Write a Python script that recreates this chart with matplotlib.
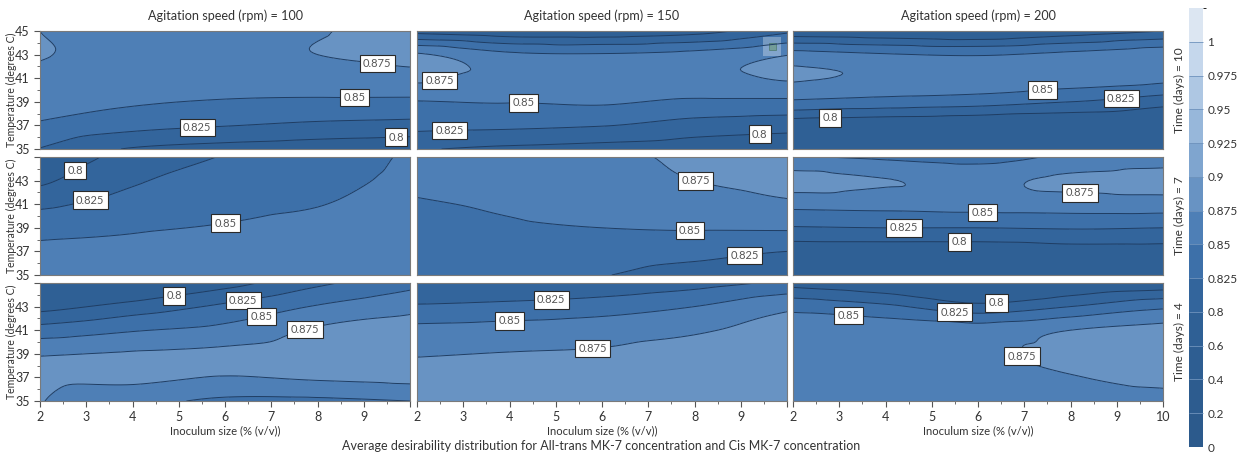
import matplotlib
matplotlib.use('Agg')
import matplotlib.pyplot as plt
import matplotlib.tri as mtri
from matplotlib.colors import ListedColormap, BoundaryNorm
from matplotlib.cm import ScalarMappable
from matplotlib.patches import Rectangle
from matplotlib.ticker import MultipleLocator, FormatStrFormatter
import numpy as np

plt.rcParams['font.family'] = ['Lato', 'DejaVu Sans']

# grid the desirability was evaluated on
inoculum = [2, 4, 6, 8, 10]
temperature = [35, 37, 39, 41, 43, 45]
speeds = [100, 150, 200]
times = [10, 7, 4]

# desirability, one row per inoculum size (2..10), values along temperature (35..45)
d_t10_a100 = [[0.824, 0.846, 0.862, 0.870, 0.876, 0.875],
              [0.798, 0.833, 0.853, 0.864, 0.869, 0.868],
              [0.790, 0.826, 0.848, 0.862, 0.869, 0.867],
              [0.785, 0.820, 0.846, 0.864, 0.875, 0.874],
              [0.780, 0.817, 0.845, 0.868, 0.880, 0.880]]
d_t10_a150 = [[0.802, 0.832, 0.849, 0.879, 0.878, 0.790],
              [0.795, 0.830, 0.851, 0.866, 0.855, 0.780],
              [0.790, 0.826, 0.853, 0.866, 0.852, 0.780],
              [0.785, 0.815, 0.846, 0.868, 0.858, 0.790],
              [0.780, 0.810, 0.845, 0.877, 0.874, 0.820]]
d_t10_a200 = [[0.720, 0.780, 0.846, 0.877, 0.860, 0.780],
              [0.710, 0.775, 0.840, 0.872, 0.852, 0.775],
              [0.700, 0.770, 0.835, 0.868, 0.848, 0.770],
              [0.690, 0.765, 0.825, 0.862, 0.856, 0.785],
              [0.680, 0.760, 0.810, 0.857, 0.866, 0.800]]
d_t7_a100 = [[0.862, 0.855, 0.842, 0.820, 0.795, 0.770],
             [0.865, 0.858, 0.847, 0.835, 0.822, 0.812],
             [0.867, 0.862, 0.852, 0.842, 0.834, 0.826],
             [0.868, 0.865, 0.858, 0.849, 0.842, 0.837],
             [0.868, 0.866, 0.863, 0.860, 0.856, 0.853]]
d_t7_a150 = [[0.835, 0.838, 0.842, 0.848, 0.855, 0.860],
             [0.832, 0.838, 0.847, 0.853, 0.860, 0.865],
             [0.826, 0.837, 0.850, 0.860, 0.866, 0.870],
             [0.815, 0.833, 0.852, 0.865, 0.875, 0.879],
             [0.810, 0.825, 0.853, 0.872, 0.882, 0.885]]
d_t7_a200 = [[0.720, 0.780, 0.823, 0.857, 0.885, 0.852],
             [0.720, 0.780, 0.825, 0.858, 0.876, 0.846],
             [0.720, 0.780, 0.825, 0.860, 0.870, 0.840],
             [0.720, 0.785, 0.827, 0.862, 0.880, 0.855],
             [0.720, 0.785, 0.825, 0.863, 0.885, 0.862]]
d_t4_a100 = [[0.876, 0.879, 0.873, 0.835, 0.790, 0.745],
             [0.858, 0.880, 0.877, 0.848, 0.810, 0.760],
             [0.845, 0.874, 0.880, 0.857, 0.830, 0.790],
             [0.845, 0.878, 0.886, 0.878, 0.852, 0.820],
             [0.850, 0.882, 0.888, 0.884, 0.868, 0.842]]
d_t4_a150 = [[0.890, 0.885, 0.873, 0.857, 0.828, 0.800],
             [0.890, 0.886, 0.876, 0.860, 0.832, 0.800],
             [0.890, 0.887, 0.878, 0.864, 0.838, 0.805],
             [0.890, 0.887, 0.884, 0.872, 0.850, 0.815],
             [0.890, 0.888, 0.886, 0.884, 0.870, 0.830]]
d_t4_a200 = [[0.860, 0.864, 0.866, 0.862, 0.842, 0.790],
             [0.860, 0.865, 0.868, 0.864, 0.830, 0.775],
             [0.862, 0.867, 0.871, 0.862, 0.808, 0.750],
             [0.866, 0.874, 0.880, 0.875, 0.825, 0.770],
             [0.868, 0.880, 0.886, 0.883, 0.845, 0.780]]

panels = [[d_t10_a100, d_t10_a150, d_t10_a200],
          [d_t7_a100, d_t7_a150, d_t7_a200],
          [d_t4_a100, d_t4_a150, d_t4_a200]]

# where each contour label sits: (level, inoculum, temperature)
label_spots = [
    [[(0.875, 9.3, 42.4), (0.85, 8.8, 39.4), (0.825, 5.4, 36.9), (0.8, 9.7, 36.0)],
     [(0.875, 2.5, 40.7), (0.85, 4.3, 38.9), (0.825, 2.7, 36.8), (0.8, 9.4, 37.3)],
     [(0.85, 7.4, 40.0), (0.825, 9.1, 39.2), (0.8, 2.8, 37.3)]],
    [[(0.8, 2.8, 43.6), (0.825, 3.1, 41.1), (0.85, 6.0, 39.8)],
     [(0.875, 8.0, 42.6), (0.85, 7.9, 38.4), (0.825, 9.1, 36.2)],
     [(0.875, 8.2, 41.5), (0.85, 6.1, 39.9), (0.825, 4.4, 38.6), (0.8, 5.6, 37.5)]],
    [[(0.8, 4.9, 43.8), (0.825, 6.4, 43.3), (0.85, 6.8, 42.0), (0.875, 7.8, 40.1)],
     [(0.825, 4.9, 43.7), (0.85, 4.0, 42.1), (0.875, 5.8, 39.4)],
     [(0.8, 6.4, 43.4), (0.825, 5.5, 42.9), (0.85, 3.2, 42.0), (0.875, 6.7, 38.4)]],
]

levels = [0, 0.2, 0.4, 0.6, 0.8, 0.825, 0.85, 0.875, 0.9, 0.925, 0.95, 0.975, 1, 1.025]
band_colors = ['#2c5a8c', '#2d5c8f', '#2e5e92', '#2f6095', '#33659c', '#3d70a9',
               '#4e7fb6', '#6893c3', '#7fa5cf', '#97b7da', '#aec7e3', '#c5d7ec', '#dce6f2']
cmap = ListedColormap(band_colors)
norm = BoundaryNorm(levels, cmap.N)

fig = plt.figure(figsize=(12.41, 4.57), dpi=100)
W, H = 1241, 457
col_left = [40, 417, 793]
row_top = [31, 157, 283]
pw, ph = 370, 118

X, Y = np.meshgrid(inoculum, temperature)
tri = mtri.Triangulation(X.ravel().astype(float), Y.ravel().astype(float))
refiner = mtri.UniformTriRefiner(tri)

for r in range(3):
    for c in range(3):
        ax = fig.add_axes([col_left[c] / W, 1 - (row_top[r] + ph) / H, pw / W, ph / H])
        z = np.array(panels[r][c]).T.ravel()
        interp = mtri.CubicTriInterpolator(tri, z, kind='geom')
        tri_f, z_f = refiner.refine_field(z, subdiv=4, triinterpolator=interp)
        ax.tricontourf(tri_f, z_f, levels=levels, cmap=cmap, norm=norm)
        ax.tricontour(tri_f, z_f, levels=levels[1:-1], colors='#1f3d63', linewidths=0.7)
        ax.set_xlim(2, 10)
        ax.set_ylim(35, 45)
        for lev, lx, ly in label_spots[r][c]:
            # one hidden single-level set per label so clabel picks the right line
            cl = ax.tricontour(tri_f, z_f, levels=[lev], colors='none', linewidths=0)
            if not len(cl.allsegs[0]):
                continue
            for t in cl.clabel(manual=[(lx, ly)], fmt='%g', fontsize=8,
                               colors='#555555', inline=False):
                t.set_rotation(0)
                t.set_color('#555555')
                t.set_bbox(dict(facecolor='white', edgecolor='#2a2a2a', linewidth=0.8,
                                boxstyle='square,pad=0.3'))
        for s in ax.spines.values():
            s.set_color('#7a7a7a')
            s.set_linewidth(0.8)
        ax.xaxis.set_major_locator(MultipleLocator(1))
        ax.xaxis.set_minor_locator(MultipleLocator(0.5))
        ax.yaxis.set_minor_locator(MultipleLocator(1))
        ax.tick_params(which='both', colors='#555555', labelcolor='#333333', labelsize=9)
        ax.tick_params(which='major', length=4)
        ax.tick_params(which='minor', length=2)
        ax.set_yticks([35, 37, 39, 41, 43, 45])
        if c == 0:
            ax.set_yticklabels(['35', '37', '39', '41', '43', '45' if r == 0 else ''])
            ax.set_ylabel('Temperature (degrees C)', fontsize=7.6, color='#333333')
            ax.yaxis.set_label_coords(-0.062, 0.5)
        else:
            ax.tick_params(axis='y', which='both', left=False, labelleft=False)
        if r == 2:
            ax.set_xticks(range(2, 11))
            ax.set_xticklabels([str(v) if (v < 10 or c == 2) else '' for v in range(2, 11)])
            ax.set_xlabel('Inoculum size (% (v/v))', fontsize=8.1, color='#333333', labelpad=1)
        else:
            ax.tick_params(axis='x', which='both', bottom=False, labelbottom=False)
        if r == 0:
            ax.set_title(f'Agitation speed (rpm) = {speeds[c]}', fontsize=9.1,
                         color='#333333', pad=8)
        if c == 2:
            ax.text(1.045, 0.5, f'Time (days) = {times[r]}', transform=ax.transAxes,
                    rotation=90, ha='center', va='center', fontsize=8.6, color='#333333')
        if r == 0 and c == 1:
            # small expand button in the corner of the panel
            ax.add_patch(Rectangle((0.935, 0.79), 0.05, 0.155, transform=ax.transAxes,
                                   facecolor='white', alpha=0.3, edgecolor='none'))
            ax.add_patch(Rectangle((0.95, 0.84), 0.02, 0.06, transform=ax.transAxes,
                                   facecolor='#6f9a8c', alpha=0.8, edgecolor='#3f6f5a',
                                   linewidth=0.5))

# shared colour scale on the right
cax = fig.add_axes([1189 / W, 1 - 447 / H, 14 / W, 439 / H])
cb = fig.colorbar(ScalarMappable(norm=norm, cmap=cmap), cax=cax, boundaries=levels,
                  ticks=levels[:-1], spacing='uniform', drawedges=True)
cb.outline.set_visible(False)
cb.dividers.set_color('#6f93bd')
cb.dividers.set_linewidth(0.6)
cax.yaxis.set_major_formatter(FormatStrFormatter('%g'))
cax.tick_params(length=0, labelsize=8.5, labelcolor='#333333', pad=3)

fig.text(601 / W, 1 - 446 / H,
         'Average desirability distribution for All-trans MK-7 concentration and Cis MK-7 concentration',
         ha='center', va='center', fontsize=9, color='#333333')

fig.savefig('out.png', dpi=100)
